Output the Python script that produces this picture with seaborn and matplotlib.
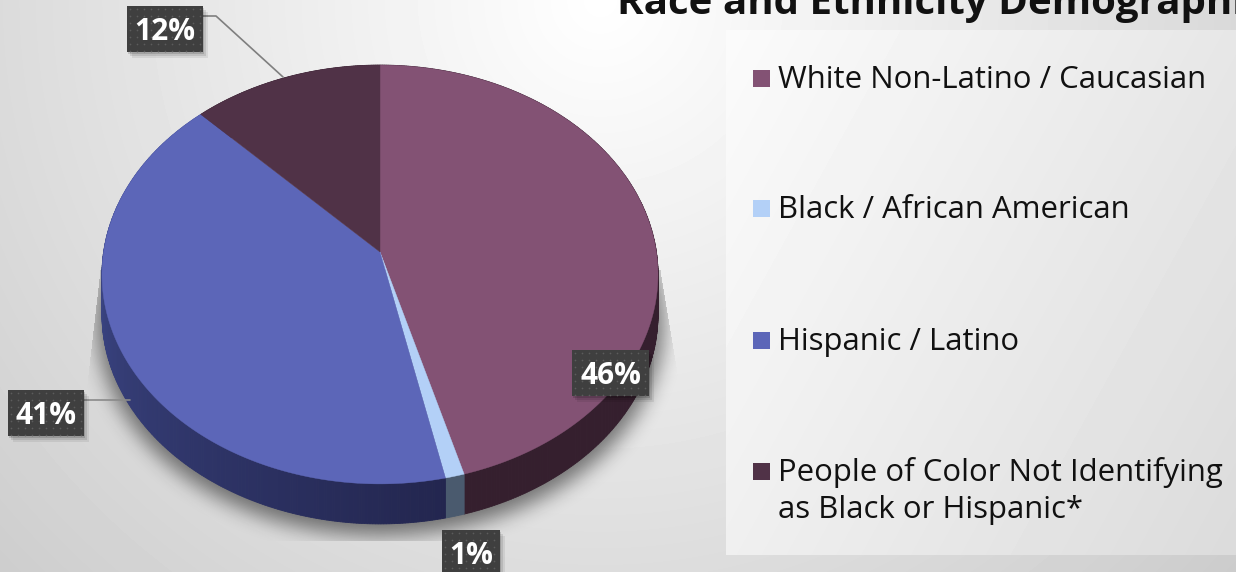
import numpy as np
import matplotlib
matplotlib.use('Agg')
import matplotlib.pyplot as plt
import seaborn as sns
from matplotlib.path import Path
from matplotlib.patches import Rectangle

# valores (rotulos arredondados)
categorias = ['White Non-Latino / Caucasian', 'Black / African American', 'Hispanic / Latino',
              'People of Color Not Identifying\nas Black or Hispanic*']
valores = [45.6, 1.0, 41.1, 12.3]
rotulos = ['46%', '1%', '41%', '12%']
titulo = 'Race and Ethnicity Demographics'
cores = ['#835274', '#b3d0f7', '#5c66b8', '#503247']

sns.set_theme(style='white')
plt.rcParams['font.family'] = ['Open Sans', 'DejaVu Sans']

W, H = 1236, 572
CX, CY, RX, RY, K = 380, 252, 276.4, 207, 0.1074
ALTURA = 40


def projeta(theta, esc=1.0):
    # disco visto em perspectiva, theta em graus a partir do topo, sentido horario
    t = np.radians(theta)
    u, v = esc * np.sin(t), esc * np.cos(t)
    d = 1 + K * v
    return CX + RX * u / d, CY - RY * v / d


def desfoca(a, n):
    nucleo = np.ones(n) / n
    for _ in range(3):
        a = np.apply_along_axis(lambda s: np.convolve(s, nucleo, mode='same'), 0, a)
        a = np.apply_along_axis(lambda s: np.convolve(s, nucleo, mode='same'), 1, a)
    return a


fig = plt.figure(figsize=(W / 100, H / 100), dpi=100)
ax = fig.add_axes([0, 0, 1, 1])
ax.set_xlim(0, W)
ax.set_ylim(H, 0)
ax.axis('off')

# fundo
yy, xx = np.mgrid[0:H, 0:W]
dist = np.hypot(xx - 600, yy)
fundo = (255 - dist * 0.06) / 255
ax.imshow(fundo, cmap='gray', vmin=0, vmax=1, extent=(0, W, H, 0), aspect='auto', zorder=0)

# painel da legenda
painel = (251 - (xx[30:555, 726:] - 726) * 0.04 - (yy[30:555, 726:] - 30) * 0.022) / 255
ax.imshow(painel, cmap='gray', vmin=0, vmax=1, extent=(726, W, 555, 30), aspect='auto', zorder=0.5)
ax.set_xlim(0, W)
ax.set_ylim(H, 0)

# sombra do disco
th = np.linspace(0, 360, 361)
px, py = projeta(th, 1.02)
borda = Path(np.column_stack([px, py + ALTURA + 6]))
pts = np.column_stack([xx.ravel(), yy.ravel()])
mascara = borda.contains_points(pts).reshape(H, W).astype(float)
sombra = desfoca(mascara, 19)
esq = 100 - (yy - 270) * 0.115
dir_ = 660 + (yy - 270) * 0.165
sombra[(yy < 270) | (yy > 540) | (xx < esq) | (xx > dir_)] = 0
rgba = np.zeros((H, W, 4))
rgba[..., 3] = sombra * 0.5
ax.imshow(rgba, extent=(0, W, H, 0), aspect='auto', zorder=1)
ax.set_xlim(0, W)
ax.set_ylim(H, 0)

# fatias
angulos = np.concatenate([[0], np.cumsum(valores) / np.sum(valores) * 360])
lados_claro = ['#351f2e', '#4a5a6e', '#46539c', '#351f2e']
lados_escuro = ['#351f2e', '#4a5a6e', '#23264f', '#351f2e']
for i, cor in enumerate(cores):
    a0, a1 = angulos[i], angulos[i + 1]
    passos = np.linspace(a0, a1, max(3, int((a1 - a0) * 2)))
    claro = np.array(matplotlib.colors.to_rgb(lados_claro[i]))
    escuro = np.array(matplotlib.colors.to_rgb(lados_escuro[i]))
    for b0, b1 in zip(passos[:-1], passos[1:]):
        x0, y0 = projeta(b0)
        x1, y1 = projeta(b1)
        f = (b0 - a0) / (a1 - a0)
        c = escuro + (claro - escuro) * f
        ax.fill([x0, x1, x1, x0], [y0, y1, y1 + ALTURA, y0 + ALTURA], color=c, lw=0.6, zorder=2)
for i, cor in enumerate(cores):
    passos = np.linspace(angulos[i], angulos[i + 1], 200)
    x, y = projeta(passos)
    ax.fill(np.r_[CX, x], np.r_[CY, y], color=cor, lw=0.3, zorder=3)

# linhas de chamada
ax.plot([203, 216, 283], [16, 16, 77], color='#7f7f7f', lw=1.2, zorder=4)
ax.plot([84, 130], [400, 400], color='#8a8a8a', lw=1.2, zorder=4)

# caixas dos rotulos: 46, 1, 41, 12
caixas = [(572, 350, 77, 46), (442, 530, 58, 46), (8, 390, 76, 46), (127, 6, 76, 46)]
for rotulo, (bx, by, bw, bh) in zip(rotulos, caixas):
    for d, al in [(7, 0.07), (5, 0.1), (3, 0.14)]:
        ax.add_patch(Rectangle((bx + d - 2, by + d - 1), bw, bh, color='black', alpha=al, lw=0, zorder=5))
    ax.add_patch(Rectangle((bx, by), bw, bh, color='#3f3f3f', lw=0, zorder=6))
    gx, gy = np.meshgrid(np.arange(bx + 3, bx + bw, 7), np.arange(by + 3, by + bh, 7))
    ax.scatter(gx.ravel(), gy.ravel(), s=1.5, color='#5c5c5c', lw=0, zorder=7)
    ax.text(bx + bw / 2, by + bh / 2 + 3, rotulo, color='white', fontsize=21.5, fontweight='bold',
            ha='center', va='center', zorder=8)

# titulo, cortado pela figura como no original
ax.text(617, 14, titulo, fontsize=29, fontweight='bold', color='#111111',
        ha='left', va='baseline', zorder=8)

# legenda
ys_legenda = [88, 218, 350, 481]
for nome, cor, yl in zip(categorias, cores, ys_legenda):
    ax.add_patch(Rectangle((753, yl - 18), 17, 17, color=cor, lw=0, zorder=8))
    for n, linha in enumerate(nome.split('\n')):
        ax.text(778, yl + n * 37, linha, fontsize=22.4, color='#111111', ha='left', va='baseline', zorder=8)

fig.savefig('out.png', dpi=100)
